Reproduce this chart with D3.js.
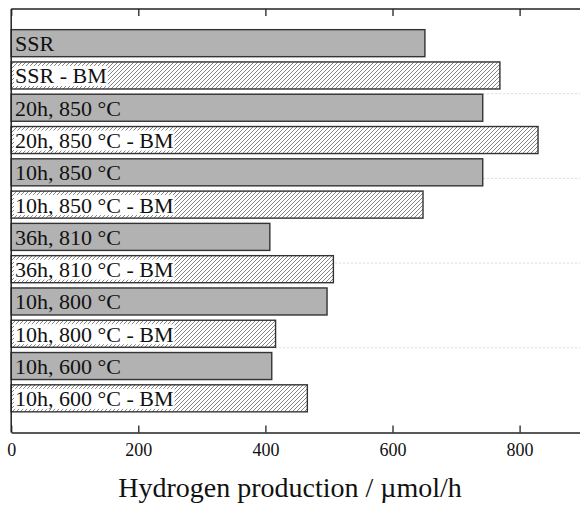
<!DOCTYPE html>
<html>
<head>
<meta charset="utf-8">
<script src="https://cdn.jsdelivr.net/npm/d3@7"></script>
<style>
  body { margin: 0; background: #fff; }
</style>
</head>
<body>
<script>
// Data
const samples = [
  "SSR", "SSR - BM",
  "20h, 850 °C", "20h, 850 °C - BM",
  "10h, 850 °C", "10h, 850 °C - BM",
  "36h, 810 °C", "36h, 810 °C - BM",
  "10h, 800 °C", "10h, 800 °C - BM",
  "10h, 600 °C", "10h, 600 °C - BM"
];
const production = [651, 769, 742, 829, 742, 648, 407, 507, 497, 416, 410, 466];
const ballMilled = [false, true, false, true, false, true, false, true, false, true, false, true];
const xTicks = [0, 200, 400, 600, 800];

const width = 580;
const height = 508;
const margin = { top: 9, left: 11.2, bottom: 432.5 };
const serif = "'Liberation Serif', 'Times New Roman', serif";

const svg = d3.select("body")
  .append("svg")
  .attr("width", width)
  .attr("height", height);

// hatch pattern for ball milled samples
const defs = svg.append("defs");
defs.append("pattern")
  .attr("id", "hatch")
  .attr("patternUnits", "userSpaceOnUse")
  .attr("width", 4)
  .attr("height", 4)
  .call(p => p.append("rect").attr("width", 4).attr("height", 4).attr("fill", "#fff"))
  .append("path")
  .attr("d", "M-1,1 l2,-2 M0,4 l4,-4 M3,5 l2,-2")
  .attr("stroke", "#666")
  .attr("stroke-width", 0.8);

const x = d3.scaleLinear()
  .domain([0, 900])
  .range([margin.left, margin.left + 900 * 0.6355]);

const y = d3.scaleBand()
  .domain(samples)
  .range([margin.top, margin.bottom])
  .paddingInner(0.163)
  .paddingOuter(0.64);

// dotted grid lines (plot height split in five)
const plotH = margin.bottom - margin.top;
svg.append("g")
  .selectAll("line")
  .data([1, 2, 3, 4])
  .enter()
  .append("line")
  .attr("x1", margin.left)
  .attr("x2", width)
  .attr("y1", d => margin.top + plotH * d / 5)
  .attr("y2", d => margin.top + plotH * d / 5)
  .attr("stroke", "#d8d8d8")
  .attr("stroke-width", 1)
  .attr("stroke-dasharray", "2,2");

// bars
svg.append("g")
  .selectAll("rect")
  .data(samples)
  .enter()
  .append("rect")
  .attr("x", x(0))
  .attr("y", d => y(d))
  .attr("width", (d, i) => x(production[i]) - x(0))
  .attr("height", y.bandwidth())
  .attr("fill", (d, i) => ballMilled[i] ? "url(#hatch)" : "#b2b2b2")
  .attr("stroke", "#333")
  .attr("stroke-width", 1.4);

// labels inside bars
const labels = svg.append("g");
samples.forEach((s, i) => {
  const cy = y(s) + y.bandwidth() / 2;
  const g = labels.append("g");
  const bg = g.append("rect");
  const t = g.append("text")
    .attr("x", 15)
    .attr("y", cy + 8)
    .style("font-family", serif)
    .style("font-size", "22px")
    .attr("fill", "#111")
    .text(s);
  if (ballMilled[i]) {
    const w = t.node().getComputedTextLength();
    bg.attr("x", 14)
      .attr("y", cy - 9.5)
      .attr("width", w + 2)
      .attr("height", 20)
      .attr("fill", "#fff");
  } else {
    bg.remove();
  }
});

// frame: top line, left line
svg.append("line")
  .attr("x1", margin.left).attr("x2", width)
  .attr("y1", margin.top).attr("y2", margin.top)
  .attr("stroke", "#222").attr("stroke-width", 1.5);
svg.append("line")
  .attr("x1", margin.left).attr("x2", margin.left)
  .attr("y1", margin.top).attr("y2", margin.bottom)
  .attr("stroke", "#222").attr("stroke-width", 1.5);

// bottom axis with inward ticks
const xAxis = d3.axisBottom(x)
  .tickValues(xTicks)
  .tickSizeInner(-7)
  .tickSizeOuter(0)
  .tickPadding(11);

const gx = svg.append("g")
  .attr("transform", `translate(0,${margin.bottom})`)
  .call(xAxis);
gx.select(".domain").attr("stroke", "#222").attr("stroke-width", 1.5);
gx.selectAll(".tick line").attr("stroke", "#222").attr("stroke-width", 1.3);
gx.selectAll(".tick text")
  .style("font-family", serif)
  .style("font-size", "18px")
  .attr("fill", "#111");

// mirrored top ticks
const xTop = d3.axisTop(x)
  .tickValues(xTicks)
  .tickSizeInner(-7)
  .tickSizeOuter(0)
  .tickFormat("");
const gt = svg.append("g")
  .attr("transform", `translate(0,${margin.top})`)
  .call(xTop);
gt.select(".domain").remove();
gt.selectAll(".tick line").attr("stroke", "#222").attr("stroke-width", 1.3);

// axis title
svg.append("text")
  .attr("x", 290)
  .attr("y", 497)
  .attr("text-anchor", "middle")
  .style("font-family", serif)
  .style("font-size", "28px")
  .attr("fill", "#111")
  .text("Hydrogen production / µmol/h");
</script>
</body>
</html>
